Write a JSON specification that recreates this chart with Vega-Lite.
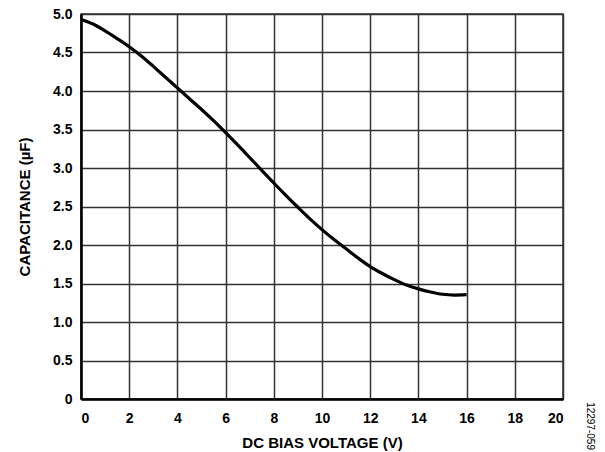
{
  "$schema": "https://vega.github.io/schema/vega-lite/v6.json",
  "width": 482,
  "height": 385,
  "autosize": {"type": "none"},
  "padding": {"left": 81, "top": 14, "right": 42, "bottom": 53},
  "background": "white",
  "title": {
    "text": "12297-059",
    "orient": "right",
    "anchor": "end",
    "frame": "bounds",
    "font": "Liberation Sans",
    "fontSize": 10,
    "fontWeight": "normal",
    "color": "#000000",
    "offset": 22
  },
  "config": {
    "view": {"stroke": "#333333", "strokeWidth": 1.5},
    "axis": {
      "labelFont": "Liberation Sans",
      "labelFontWeight": "bold",
      "labelFontSize": 14,
      "labelColor": "#000000",
      "titleFont": "Liberation Sans",
      "titleFontWeight": "bold",
      "titleFontSize": 15,
      "titleColor": "#000000",
      "gridColor": "#333333",
      "gridWidth": 1.5,
      "gridOpacity": 1,
      "ticks": false,
      "domainColor": "#000000",
      "domainWidth": 2.5
    }
  },
  "data": {
    "values": [
      {"v": 0, "c": 4.93},
      {"v": 0.5, "c": 4.87},
      {"v": 1, "c": 4.78},
      {"v": 1.5, "c": 4.68},
      {"v": 2, "c": 4.575},
      {"v": 2.5, "c": 4.455},
      {"v": 3, "c": 4.32},
      {"v": 3.5, "c": 4.18},
      {"v": 4, "c": 4.04},
      {"v": 4.5, "c": 3.9},
      {"v": 5, "c": 3.76},
      {"v": 5.5, "c": 3.615},
      {"v": 6, "c": 3.46},
      {"v": 6.5, "c": 3.3},
      {"v": 7, "c": 3.135},
      {"v": 7.5, "c": 2.97},
      {"v": 8, "c": 2.805},
      {"v": 8.5, "c": 2.645},
      {"v": 9, "c": 2.49},
      {"v": 9.5, "c": 2.34},
      {"v": 10, "c": 2.2},
      {"v": 10.5, "c": 2.07},
      {"v": 11, "c": 1.95},
      {"v": 11.5, "c": 1.83},
      {"v": 12, "c": 1.72},
      {"v": 12.5, "c": 1.63},
      {"v": 13, "c": 1.55},
      {"v": 13.5, "c": 1.48},
      {"v": 14, "c": 1.43},
      {"v": 14.5, "c": 1.39},
      {"v": 15, "c": 1.36},
      {"v": 15.5, "c": 1.35},
      {"v": 16, "c": 1.355}
    ]
  },
  "mark": {"type": "line", "color": "#000000", "strokeWidth": 3.2, "interpolate": "monotone"},
  "encoding": {
    "x": {
      "field": "v",
      "type": "quantitative",
      "scale": {"domain": [0, 20], "nice": false},
      "axis": {
        "values": [0, 2, 4, 6, 8, 10, 12, 14, 16, 18, 20],
        "title": "DC BIAS VOLTAGE (V)",
        "labelPadding": 12,
        "titlePadding": 10
      }
    },
    "y": {
      "field": "c",
      "type": "quantitative",
      "scale": {"domain": [0, 5], "nice": false},
      "axis": {
        "values": [0, 0.5, 1, 1.5, 2, 2.5, 3, 3.5, 4, 4.5, 5],
        "labelExpr": "datum.value == 0 ? '0' : format(datum.value, '.1f')",
        "title": "CAPACITANCE (µF)",
        "labelPadding": 9,
        "titlePadding": 20
      }
    }
  }
}
